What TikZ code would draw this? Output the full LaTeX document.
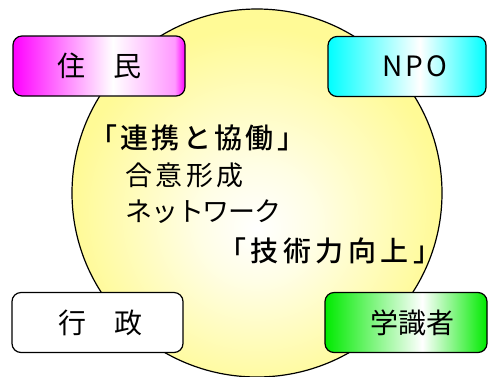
\documentclass[tikz,border=0pt]{standalone}
\usepackage{fontspec}
\setmainfont{Noto Sans CJK JP}
\newfontfamily\medfont{Noto Sans CJK JP Medium}
\usetikzlibrary{positioning}
\definecolor{circyel}{RGB}{255,250,150}
\definecolor{magbox}{RGB}{255,0,255}
\definecolor{cyanbox}{RGB}{0,255,255}
\definecolor{greenbox}{RGB}{0,235,0}
\pgfdeclareradialshading{circshade}{\pgfpoint{0bp}{-5bp}}{color(0bp)=(white); color(8bp)=(circyel!25); color(25bp)=(circyel); color(50bp)=(circyel)}
\pgfdeclarehorizontalshading{magshade}{100bp}{color(0bp)=(magbox); color(25bp)=(magbox); color(54bp)=(white); color(72bp)=(magbox!40); color(75bp)=(magbox); color(100bp)=(magbox)}
\pgfdeclarehorizontalshading{cyanshade}{100bp}{color(0bp)=(cyanbox); color(25bp)=(cyanbox); color(54bp)=(white); color(75bp)=(cyanbox); color(100bp)=(cyanbox)}
\pgfdeclarehorizontalshading{greenshade}{100bp}{color(0bp)=(greenbox); color(25bp)=(greenbox); color(55bp)=(white); color(75bp)=(greenbox); color(100bp)=(greenbox)}
\tikzset{
  actor/.style={rectangle, rounded corners=9pt, draw=black, line width=1.2pt,
    minimum height=60pt, inner sep=0pt, font=\fontsize{28}{30}\selectfont},
  theme/.style={anchor=west, inner sep=0pt, font=\fontsize{27}{30}\selectfont},
  keyword/.style={theme, font=\fontsize{28}{30}\selectfont\medfont}
}

\begin{document}
\begin{tikzpicture}[x=1pt, y=-1pt]
\useasboundingbox (0,0) rectangle (489,376);
\draw[line width=1.2pt, shading=circshade] (257,193) ellipse [x radius=185, y radius=184];
% partners
\node[actor, shading=magshade, minimum width=172pt] (jumin) at (99,66) {住　民};
\node[actor, shading=cyanshade, minimum width=158pt] (npo) at (407,66.5) {\kern16pt\addfontfeature{LetterSpace=12}NPO};
\node[actor, fill=white, minimum width=171pt] (gyosei) at (97.5,322.5) {\kern5pt 行　政};
\node[actor, shading=greenshade, minimum width=162pt] (gakushiki) at (406,322.5) {\kern12pt 学識者};
% center text
\node[keyword] (renkei) at (89,138) {\addfontfeature{LetterSpace=12}「連携と協働」};
\node[theme] (goui) at (125,175) {\addfontfeature{LetterSpace=13}合意形成};
\node[theme] (network) at (125,212) {\addfontfeature{LetterSpace=-4}ネットワーク};
\node[keyword] (gijutsu) at (218,251) {\addfontfeature{LetterSpace=16}「技術力向上」};
\end{tikzpicture}
\end{document}
